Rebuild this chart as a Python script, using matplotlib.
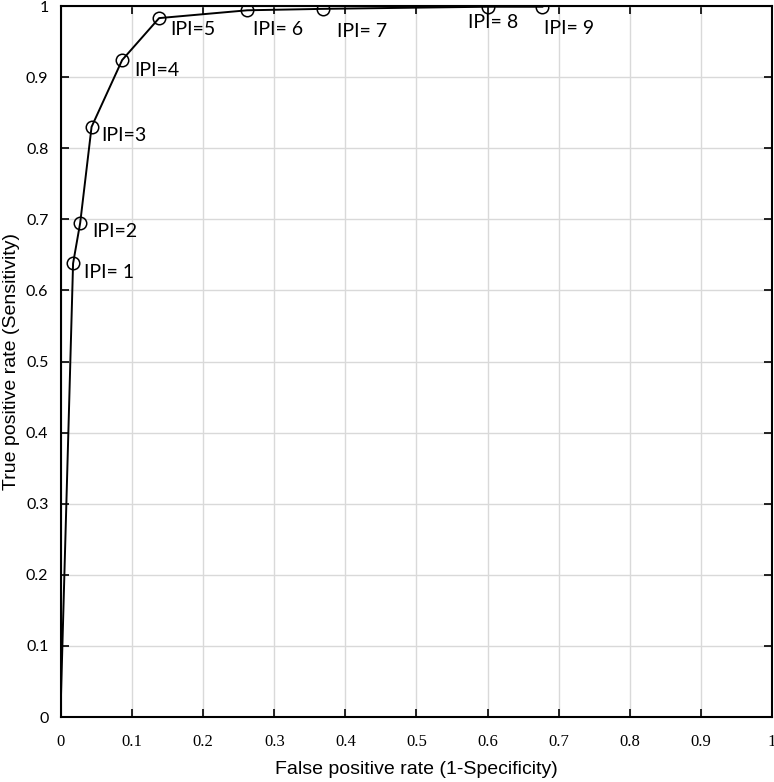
import matplotlib.pyplot as plt
import numpy as np

# ROC points (false positive rate, true positive rate)
fpr = [0.0, 0.017, 0.027, 0.043, 0.086, 0.138, 0.262, 0.368, 0.600, 0.677]
tpr = [0.03, 0.638, 0.695, 0.830, 0.924, 0.983, 0.994, 0.996, 0.999, 0.999]
labels = ['IPI= 1', 'IPI=2', 'IPI=3', 'IPI=4', 'IPI=5',
          'IPI= 6', 'IPI= 7', 'IPI= 8', 'IPI= 9']
# label offsets in pixels from each marker
offsets = [(11, -9), (12, -9), (10, -9), (12, -10), (11, -11),
           (6, -19), (14, -23), (-20, -16), (2, -22)]

fig = plt.figure(figsize=(7.74, 7.82), dpi=100)
ax = fig.add_axes([0.0788, 0.0831, 0.9186, 0.9092])

ax.plot(fpr, tpr, color='black', lw=1.4, zorder=3)
ax.plot(fpr[1:], tpr[1:], 'o', mfc='none', mec='black', ms=9, mew=1.1, zorder=4)

for x, y, lab, (dx, dy) in zip(fpr[1:], tpr[1:], labels, offsets):
    ax.annotate(lab, (x, y), xytext=(dx, dy), textcoords='offset pixels',
                ha='left', va='center', fontsize=14, family='Lato')

ax.set_xlim(0, 1)
ax.set_ylim(0, 1)
ticks = np.round(np.arange(0, 1.01, 0.1), 1)
ax.set_xticks(ticks)
ax.set_yticks(ticks)
ax.set_xticklabels(['0' if t == 0 else ('1' if t == 1 else f'{t:g}') for t in ticks],
                   family='Liberation Serif', fontsize=12)
ax.set_yticklabels(['0' if t == 0 else ('1' if t == 1 else f'{t:g}') for t in ticks],
                   family='Lato', fontsize=11.5)
ax.tick_params(direction='in', top=True, right=True, length=6, width=1.2)
ax.tick_params(axis='x', pad=12)
ax.tick_params(axis='y', pad=9)
ax.grid(True, color='#d9d9d9', lw=1)
ax.set_axisbelow(True)
for s in ax.spines.values():
    s.set_linewidth(1.5)

ax.set_xlabel('False positive rate (1-Specificity)', family='Liberation Sans', fontsize=14, labelpad=8)
ax.set_ylabel('True positive rate (Sensitivity)', family='Liberation Sans', fontsize=14, labelpad=4)

fig.savefig('out.png', dpi=100)
